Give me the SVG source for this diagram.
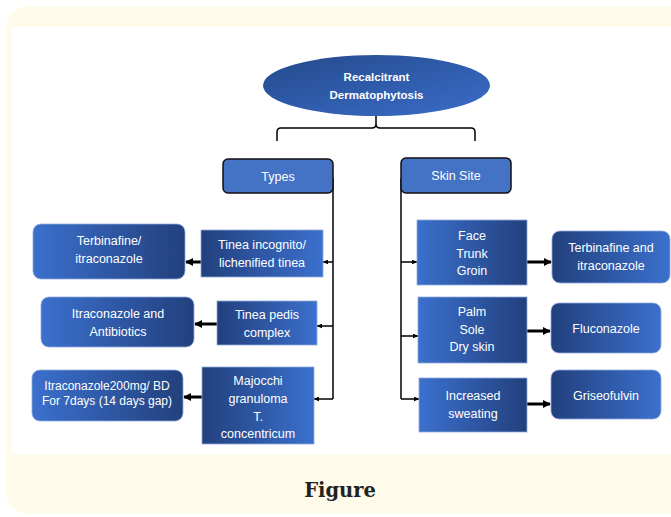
<svg xmlns="http://www.w3.org/2000/svg" width="671" height="517" viewBox="0 0 671 517">
<defs>
<linearGradient id="lightL" x1="0" y1="0" x2="1" y2="0"><stop offset="0" stop-color="#3B70CD"/><stop offset="1" stop-color="#22407D"/></linearGradient>
<linearGradient id="darkL" x1="0" y1="0" x2="1" y2="0"><stop offset="0" stop-color="#22407D"/><stop offset="1" stop-color="#3B70CD"/></linearGradient>
<linearGradient id="ell" x1="0" y1="0" x2="1" y2="1"><stop offset="0" stop-color="#244A8C"/><stop offset="1" stop-color="#3A6CC8"/></linearGradient>
<marker id="ah" viewBox="0 0 10 10" refX="9" refY="5" markerWidth="6" markerHeight="5" orient="auto" markerUnits="userSpaceOnUse" preserveAspectRatio="none"><path d="M0,0 L10,5 L0,10 z" fill="#000"/></marker>
<marker id="ab" viewBox="0 0 10 10" refX="9" refY="5" markerWidth="8" markerHeight="8" orient="auto" markerUnits="userSpaceOnUse"><path d="M0,0 L10,5 L0,10 z" fill="#000"/></marker>
</defs>
<style>
.t{font-family:"Liberation Sans",Arial,sans-serif;font-size:12.5px;fill:#fff;text-anchor:middle}
.b{font-weight:bold;font-size:11.5px}
.sm{font-size:12px}
.sq{stroke:#8FAADC;stroke-width:0.8}
.rd{stroke:#8FAADC;stroke-width:0.8}
.hd{fill:#4472C4;stroke:#111;stroke-width:1.5}
.ln{fill:none;stroke:#000;stroke-width:1.5}
.ar{fill:none;stroke:#000;stroke-width:1.5;marker-end:url(#ah)}
.ab{fill:none;stroke:#000;stroke-width:3;marker-end:url(#ab)}
</style>
<rect x="6" y="6" width="690" height="508" rx="22" fill="#FFFBEA"/>
<rect x="12" y="27" width="670" height="427" fill="#fff"/>
<text x="340" y="497" font-family="DejaVu Serif,serif" font-weight="bold" font-size="19.5" fill="#222" text-anchor="middle">Figure</text>

<g id="connectors">
<path class="ln" d="M376,116 V124 Q376,128 372,128 H281 Q277,128 277,132 V141 M376,124 Q376,128 380,128 H471 Q475,128 475,132 V141"/>
<path class="ln" d="M333,178 V399"/>
<path class="ar" d="M333,262 H323"/>
<path class="ar" d="M333,326 H317"/>
<path class="ar" d="M333,399 H314"/>
<path class="ln" d="M401,178 V399"/>
<path class="ar" d="M401,262 H417"/>
<path class="ar" d="M401,336 H418"/>
<path class="ar" d="M401,399 H419"/>
<path class="ab" d="M201,262 H186"/>
<path class="ab" d="M217,324 H195"/>
<path class="ab" d="M202,397 H184"/>
<path class="ab" d="M527,262 H551"/>
<path class="ab" d="M527,331 H550"/>
<path class="ab" d="M527,404 H550"/>
</g>

<g id="root"><ellipse cx="376.5" cy="85.5" rx="113.5" ry="30.5" fill="url(#ell)"/>
<text class="t b" x="376.5" y="81">Recalcitrant</text><text class="t b" x="376.5" y="99">Dermatophytosis</text></g>

<g id="types"><rect class="hd" x="223" y="159" width="110" height="34" rx="5"/><text class="t" x="278" y="181">Types</text></g>
<g id="skinsite"><rect class="hd" x="401" y="158" width="110" height="35" rx="5"/><text class="t" x="456" y="180">Skin Site</text></g>

<g id="tinea-incognito"><rect class="sq" x="201" y="230" width="122" height="47" fill="url(#darkL)"/>
<text class="t" x="262" y="249">Tinea incognito/</text><text class="t" x="262" y="267">lichenified tinea</text></g>
<g id="terb-itra"><rect class="rd" x="33" y="224" width="152" height="55" rx="8" fill="url(#lightL)"/>
<text class="t" x="109" y="245">Terbinafine/</text><text class="t" x="109" y="263">itraconazole</text></g>

<g id="tinea-pedis"><rect class="sq" x="217" y="301" width="100" height="44" fill="url(#darkL)"/>
<text class="t" x="267" y="319">Tinea pedis</text><text class="t" x="267" y="337">complex</text></g>
<g id="itra-antibiotics"><rect class="rd" x="41" y="297" width="153" height="50" rx="8" fill="url(#lightL)"/>
<text class="t" x="118" y="318">Itraconazole and</text><text class="t" x="118" y="336">Antibiotics</text></g>

<g id="majocchi"><rect class="sq" x="202" y="367" width="112" height="77" fill="url(#darkL)"/>
<text class="t" x="258" y="385">Majocchi</text><text class="t" x="258" y="403">granuloma</text><text class="t" x="258" y="421">T.</text><text class="t" x="258" y="438">concentricum</text></g>
<g id="itra200"><rect class="rd" x="32" y="370" width="151" height="51" rx="8" fill="url(#lightL)"/>
<text class="t sm" x="107" y="390">Itraconazole200mg/ BD</text><text class="t sm" x="107" y="405">For 7days (14 days gap)</text></g>

<g id="face"><rect class="sq" x="417" y="220" width="110" height="65" fill="url(#lightL)"/>
<text class="t" x="472" y="240">Face</text><text class="t" x="472" y="258">Trunk</text><text class="t" x="472" y="275">Groin</text></g>
<g id="terb-and-itra"><rect class="rd" x="552" y="231" width="118" height="52" rx="8" fill="url(#darkL)"/>
<text class="t" x="611" y="252">Terbinafine and</text><text class="t" x="611" y="270">itraconazole</text></g>

<g id="palm"><rect class="sq" x="418" y="297" width="109" height="66" fill="url(#lightL)"/>
<text class="t" x="472" y="316">Palm</text><text class="t" x="472" y="334">Sole</text><text class="t" x="472" y="351">Dry skin</text></g>
<g id="fluconazole"><rect class="rd" x="551" y="303" width="110" height="50" rx="8" fill="url(#darkL)"/>
<text class="t" x="606" y="333">Fluconazole</text></g>

<g id="sweating"><rect class="sq" x="419" y="378" width="108" height="54" fill="url(#lightL)"/>
<text class="t" x="473" y="400">Increased</text><text class="t" x="473" y="418">sweating</text></g>
<g id="griseofulvin"><rect class="rd" x="551" y="370" width="110" height="49" rx="8" fill="url(#darkL)"/>
<text class="t" x="606" y="400">Griseofulvin</text></g>
</svg>
